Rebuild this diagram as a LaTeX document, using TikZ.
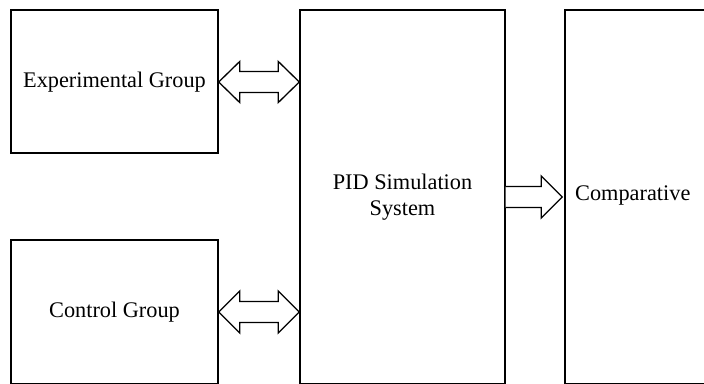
\documentclass[tikz,border=0pt]{standalone}
\usepackage{fontspec}
\setmainfont{Liberation Serif}
\usetikzlibrary{calc}
\begin{document}
\begin{tikzpicture}[x=1pt,y=-1pt,
  box/.style={draw,line width=1.4pt,inner sep=0pt},
  lbl/.style={font=\fontsize{22.3}{26}\selectfont,align=center,inner sep=0pt},
  fatarrow/.style={draw,line width=1.3pt,fill=white,line join=miter}]
\useasboundingbox (0,0) rectangle (704,383);
\clip (0,0) rectangle (704,383);
\node[box,minimum width=207pt,minimum height=143pt] (exp) at (114.5,81.5) {};
\node[box,minimum width=207pt,minimum height=144pt] (ctrl) at (114.5,312) {};
\node[box,minimum width=205pt,minimum height=374pt] (pid) at (402.5,197) {};
\node[box,minimum width=205pt,minimum height=374pt] (cmp) at (667.5,197) {};
\node[lbl] (expt) at (114.5,82) {Experimental Group};
\node[lbl] (ctrlt) at (114.5,312) {Control Group};
\node[lbl] (pidt) at (402.5,197) {PID Simulation\\System};
\node[lbl,anchor=west] (cmpt) at (575,195) {Comparative};
% double arrow experimental <-> pid
\coordinate (a1) at (exp.east |- 0,82);
\coordinate (b1) at (pid.west |- 0,82);
\draw[fatarrow] (a1) -- ++(21,-20.5) -- ++(0,10) -- ($(b1)+(-21,-10.5)$) -- ++(0,-10) -- (b1)
  -- ++(-21,20.5) -- ++(0,-10) -- ($(a1)+(21,10.5)$) -- ++(0,10) -- cycle;
% double arrow control <-> pid
\coordinate (a2) at (ctrl.east |- 0,312);
\coordinate (b2) at (pid.west |- 0,312);
\draw[fatarrow] (a2) -- ++(21,-21) -- ++(0,10.5) -- ($(b2)+(-21,-10.5)$) -- ++(0,-10.5) -- (b2)
  -- ++(-21,21) -- ++(0,-10.5) -- ($(a2)+(21,10.5)$) -- ++(0,10.5) -- cycle;
% single arrow pid -> comparative
\coordinate (a3) at (pid.east |- 0,197);
\coordinate (b3) at ($(cmp.west |- 0,197)+(-2,0)$);
\draw[fatarrow] ($(a3)+(0,-10.5)$) -- ($(b3)+(-21,-10.5)$) -- ++(0,-10.5) -- (b3)
  -- ++(-21,21) -- ++(0,-10.5) -- ($(a3)+(0,10.5)$);
\end{tikzpicture}
\end{document}
